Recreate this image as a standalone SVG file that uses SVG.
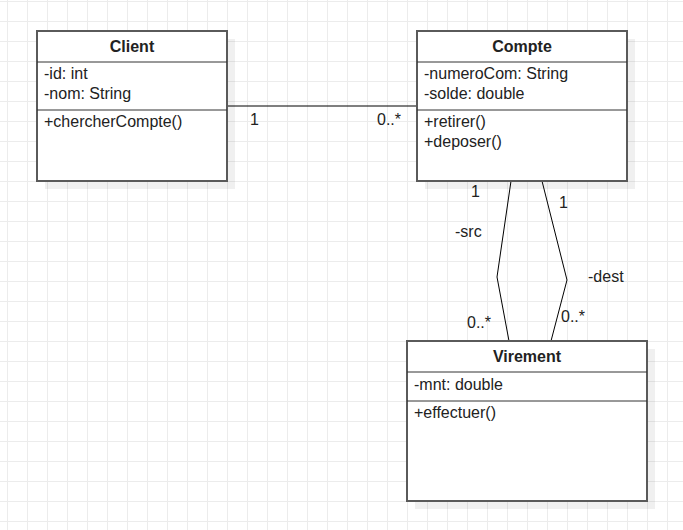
<svg xmlns="http://www.w3.org/2000/svg" width="683" height="530" viewBox="0 0 683 530">
<defs>
<pattern id="grid" x="7" y="1" width="20" height="20" patternUnits="userSpaceOnUse">
<path d="M0.5 0 V20 M0 0.5 H20" fill="none" stroke="#ececec" stroke-width="1"/>
</pattern>
</defs>
<style>
text{font-family:"Liberation Sans",Arial,sans-serif;font-size:16px;fill:#222}
.title{font-weight:bold;text-anchor:middle}
.box{fill:#fff;stroke:#5a5a5a;stroke-width:2}
.shadow{fill:#000;fill-opacity:0.06}
.sep{stroke:#333;stroke-width:1}
.conn{fill:none;stroke:#000;stroke-width:1}
</style>
<rect width="683" height="530" fill="#fff"/>
<rect width="683" height="530" fill="url(#grid)"/>
<g id="connectors">
<path class="conn" d="M227 106 H417"/>
<path class="conn" d="M511 181 L497 277 L509 341"/>
<path class="conn" d="M542 181 L567 280 L551 341"/>
<text x="250" y="125">1</text>
<text x="377" y="125">0..*</text>
<text x="471" y="197">1</text>
<text x="455" y="237">-src</text>
<text x="467" y="328">0..*</text>
<text x="559" y="208">1</text>
<text x="588" y="282">-dest</text>
<text x="561" y="322">0..*</text>
</g>
<g id="Client">
<rect class="shadow" x="45" y="39" width="190" height="150"/>
<rect class="box" x="37" y="31" width="190" height="150"/>
<line class="sep" x1="37" y1="62" x2="227" y2="62"/>
<line class="sep" x1="37" y1="110" x2="227" y2="110"/>
<text class="title" x="132" y="52">Client</text>
<text x="44" y="79">-id: int</text>
<text x="44" y="99">-nom: String</text>
<text x="44" y="127">+chercherCompte()</text>
</g>
<g id="Compte">
<rect class="shadow" x="425" y="39" width="210" height="150"/>
<rect class="box" x="417" y="31" width="210" height="150"/>
<line class="sep" x1="417" y1="62" x2="627" y2="62"/>
<line class="sep" x1="417" y1="110" x2="627" y2="110"/>
<text class="title" x="522" y="52">Compte</text>
<text x="424" y="79">-numeroCom: String</text>
<text x="424" y="99">-solde: double</text>
<text x="424" y="127">+retirer()</text>
<text x="424" y="147">+deposer()</text>
</g>
<g id="Virement">
<rect class="shadow" x="415" y="349" width="240" height="160"/>
<rect class="box" x="407" y="341" width="240" height="160"/>
<line class="sep" x1="407" y1="372" x2="647" y2="372"/>
<line class="sep" x1="407" y1="401" x2="647" y2="401"/>
<text class="title" x="527" y="362">Virement</text>
<text x="414" y="390">-mnt: double</text>
<text x="414" y="418">+effectuer()</text>
</g>
</svg>
